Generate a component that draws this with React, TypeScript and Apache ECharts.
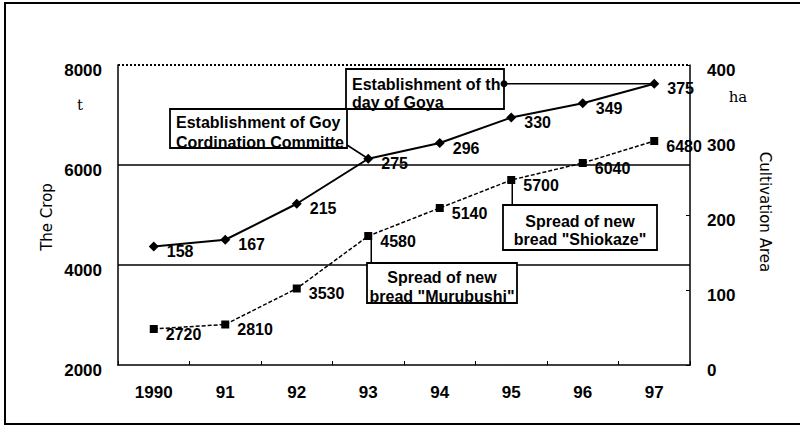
import React, { useEffect, useRef } from 'react';
import * as echarts from 'echarts';

const years = ['1990', '91', '92', '93', '94', '95', '96', '97'];
const areaHa = [158, 167, 215, 275, 296, 330, 349, 375];
const cropT = [2720, 2810, 3530, 4580, 5140, 5700, 6040, 6480];

const noteGoyaCommittee = 'Establishment of Goya\nCordination Committee';
const noteGoyaDay = 'Establishment of the\nday of Goya';
const noteMurubushi = 'Spread of new\nbread "Murubushi"';
const noteShiokaze = 'Spread of new\nbread "Shiokaze"';

export default function App() {
  const ref = useRef<HTMLDivElement>(null);
  useEffect(() => {
    const chart = echarts.init(ref.current!, null, { renderer: 'svg' });
    const bold = { fontFamily: 'Liberation Sans', fontWeight: 'bold', color: '#000' };
    const dataLabel = { show: true, position: 'right', distance: 8, offset: [0, 5], ...bold, fontSize: 16 };
    const yLabel = { ...bold, fontSize: 17, verticalAlign: 'top', lineHeight: 10, formatter: (v: number) => String(v) };
    chart.setOption({
      animation: false,
      backgroundColor: '#fff',
      grid: { left: 118, top: 65, width: 572, height: 300, containLabel: false },
      xAxis: {
        type: 'category',
        data: years,
        boundaryGap: true,
        axisLine: { lineStyle: { color: '#000', width: 1.5 } },
        axisTick: { show: true, inside: true, length: 4, lineStyle: { color: '#000' } },
        axisLabel: { ...bold, fontSize: 17, margin: 19 },
      },
      yAxis: [
        {
          type: 'value', min: 2000, max: 8000, interval: 2000, position: 'left',
          axisLine: { show: true, lineStyle: { color: '#000', width: 1.5 } },
          axisTick: { show: false },
          splitLine: { show: false },
          axisLabel: { ...yLabel, margin: 16 },
        },
        {
          type: 'value', min: 0, max: 400, interval: 100, position: 'right',
          axisLine: { show: true, lineStyle: { color: '#000', width: 1.5 } },
          axisTick: { show: true, inside: true, length: 4, lineStyle: { color: '#000' } },
          splitLine: { show: false },
          axisLabel: { ...yLabel, margin: 17 },
        },
      ],
      series: [
        {
          name: 'The Crop',
          type: 'line',
          yAxisIndex: 0,
          data: cropT,
          symbol: 'rect',
          symbolSize: 8,
          lineStyle: { color: '#000', width: 1.5, type: [4, 2] },
          itemStyle: { color: '#000' },
          label: dataLabel,
          markLine: {
            silent: true,
            symbol: ['none', 'none'],
            label: { show: false },
            lineStyle: { color: '#000', width: 1.5, type: 'solid' },
            data: [
              { yAxis: 4000 },
              { yAxis: 6000 },
              { yAxis: 8000, lineStyle: { type: 'dotted', width: 2, color: '#000' } },
            ],
          },
        },
        {
          name: 'Cultivation Area',
          type: 'line',
          yAxisIndex: 1,
          data: areaHa,
          symbol: 'diamond',
          symbolSize: 10,
          lineStyle: { color: '#000', width: 2 },
          itemStyle: { color: '#000' },
          label: dataLabel,
        },
      ],
    });

    const px = (i: number, v: number, yIdx: number) =>
      chart.convertToPixel({ xAxisIndex: 0, yAxisIndex: yIdx }, [i, v]) as number[];
    const a93 = px(3, areaHa[3], 1);
    const a97 = px(7, areaHa[7], 1);
    const c93 = px(3, cropT[3], 0);
    const c95 = px(5, cropT[5], 0);

    const boxStyle = { fill: '#fff', stroke: '#000', lineWidth: 1.8 };
    const noteFont = { fill: '#000', fontFamily: 'Liberation Sans', fontWeight: 'bold', fontSize: 16 };
    const lineStyle = { stroke: '#000', lineWidth: 1.5 };

    chart.setOption({
      graphic: [
        { type: 'rect', silent: true, z: 100, shape: { x: 5, y: 3, width: 800, height: 421 }, style: { fill: 'none', stroke: '#000', lineWidth: 2 } },
        { type: 'text', silent: true, z: 20, x: 47, y: 217, rotation: Math.PI / 2,
          style: { text: 'The Crop', fill: '#000', fontFamily: 'DejaVu Sans', fontSize: 15, align: 'center', verticalAlign: 'middle' } },
        { type: 'text', silent: true, z: 20, x: 80, y: 105,
          style: { text: 't', fill: '#000', fontFamily: 'DejaVu Serif', fontSize: 15, align: 'center', verticalAlign: 'middle' } },
        { type: 'text', silent: true, z: 20, x: 738, y: 97,
          style: { text: 'ha', fill: '#000', fontFamily: 'DejaVu Serif', fontSize: 15, align: 'center', verticalAlign: 'middle' } },
        { type: 'text', silent: true, z: 20, x: 765, y: 212, rotation: -Math.PI / 2,
          style: { text: 'Cultivation Area', fill: '#000', fontFamily: 'DejaVu Sans', fontSize: 15, align: 'center', verticalAlign: 'middle' } },

        // Box A
        { type: 'line', silent: true, z: 10, shape: { x1: 347, y1: 145, x2: a93[0], y2: a93[1] }, style: lineStyle },
        { type: 'rect', silent: true, z: 11, shape: { x: 170, y: 109, width: 177, height: 39 }, style: boxStyle },
        { type: 'text', silent: true, z: 12, x: 176, y: 112,
          style: { text: noteGoyaCommittee, ...noteFont, lineHeight: 20, verticalAlign: 'top', width: 174, overflow: 'truncate', ellipsis: '' } },

        // Box B
        { type: 'line', silent: true, z: 10, shape: { x1: 504, y1: a97[1], x2: a97[0], y2: a97[1] }, style: lineStyle },
        { type: 'rect', silent: true, z: 11, shape: { x: 346, y: 69, width: 158, height: 40 }, style: boxStyle },
        { type: 'text', silent: true, z: 12, x: 352, y: 75,
          style: { text: noteGoyaDay, ...noteFont, lineHeight: 18, verticalAlign: 'top', width: 156, overflow: 'truncate', ellipsis: '' } },
        { type: 'circle', silent: true, z: 13, shape: { cx: 504, cy: a97[1], r: 3.5 }, style: { fill: '#000' } },

        // Box C
        { type: 'line', silent: true, z: 10, shape: { x1: c93[0] + 3, y1: c93[1], x2: c93[0] + 3, y2: 263 }, style: lineStyle },
        { type: 'rect', silent: true, z: 11, shape: { x: 367, y: 263, width: 150, height: 40 }, style: boxStyle },
        { type: 'text', silent: true, z: 12, x: 442, y: 268,
          style: { text: noteMurubushi, ...noteFont, lineHeight: 19, align: 'center', verticalAlign: 'top' } },

        // Box D
        { type: 'line', silent: true, z: 10, shape: { x1: c95[0] + 1, y1: c95[1], x2: c95[0] + 1, y2: 205 }, style: lineStyle },
        { type: 'rect', silent: true, z: 11, shape: { x: 503, y: 205, width: 154, height: 45 }, style: boxStyle },
        { type: 'text', silent: true, z: 12, x: 580, y: 212,
          style: { text: noteShiokaze, ...noteFont, lineHeight: 18, align: 'center', verticalAlign: 'top' } },
      ],
    });

    return () => chart.dispose();
  }, []);
  return <div ref={ref} style={{ position: 'fixed', left: 0, top: 0, width: 800, height: 427 }} />;
}
